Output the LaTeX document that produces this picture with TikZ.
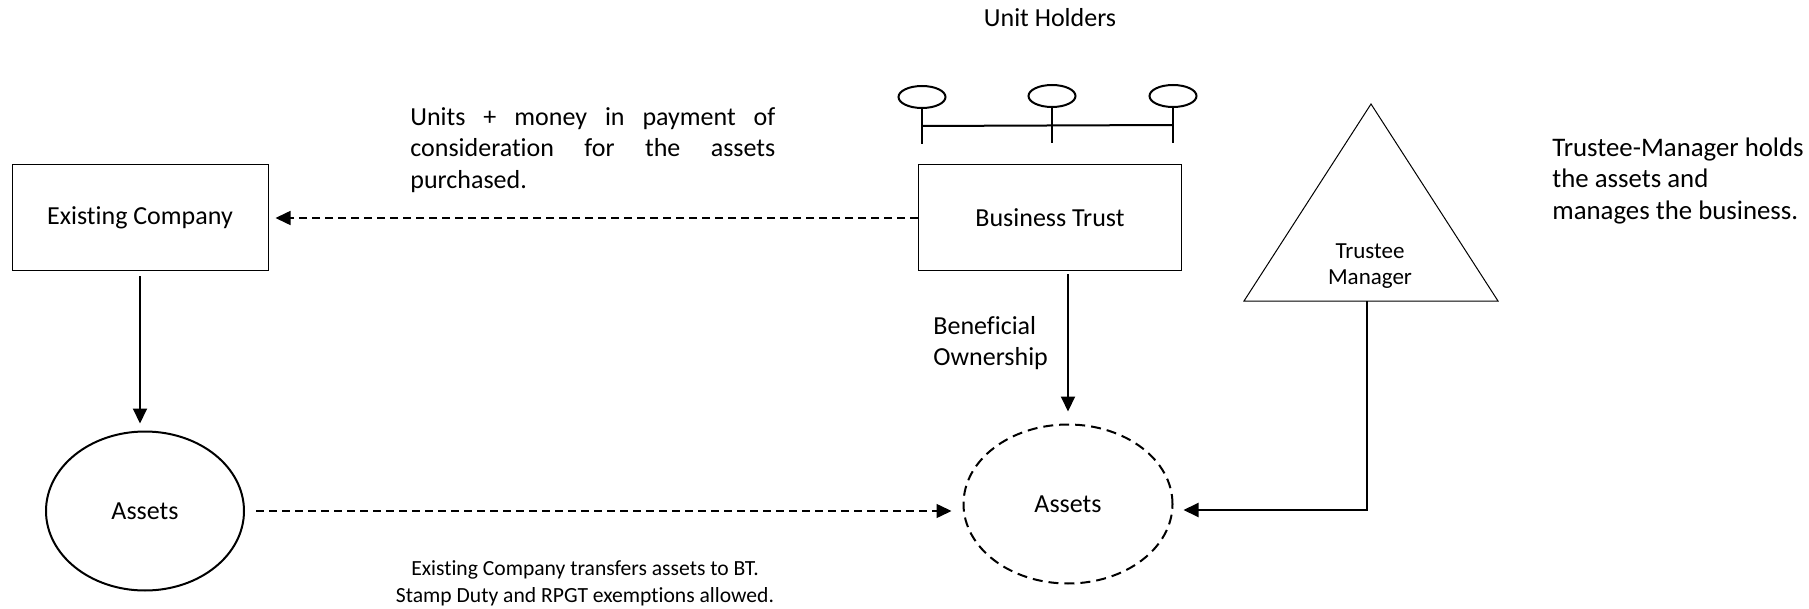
\documentclass[tikz,border=0pt]{standalone}
\usepackage{fontspec}
\setmainfont{Carlito}[Ligatures=NoCommon]
\usepackage{tikz}
\usetikzlibrary{
  arrows.meta,
  calc,
  positioning,
  shapes.geometric
}
\tikzset{>={Triangle[length=7.5pt,width=7pt]}}
\tikzset{
  box/.style={draw,line width=0.5pt,minimum height=53pt,inner sep=0pt,font=\fontsize{13}{15.8}\selectfont},
  blob/.style={ellipse,draw,line width=1pt,minimum height=79.5pt,inner sep=0pt,font=\fontsize{13}{15.8}\selectfont},
  holder/.style={ellipse,draw,line width=1pt,minimum width=23.5pt,minimum height=11pt,inner sep=0pt},
  txt/.style={inner sep=0pt,font=\fontsize{13}{15.75}\selectfont},
  dsh/.style={dash pattern=on 4pt off 2.5pt,line width=0.75pt}
}

\begin{document}
\begin{tikzpicture}[x=0.5pt,y=-0.5pt]
	\useasboundingbox (0,0) rectangle (1809,609);
	\node[txt] (uhtext) at (1050,18) {Unit Holders};
	\node[holder] (uh1) at (922,97) {};
	\node[holder] (uh2) at (1052,96) {};
	\node[holder] (uh3) at (1173,96) {};
	\foreach \i in {1,2,3}
		\draw[line width=1pt] (uh\i.south) -- ++(0,35);
	\draw[line width=1pt] ($(uh1.south)+(0,17)$) -- ($(uh3.south)+(0,17)$);
	\node[box,minimum width=128pt] (exco) at (140,218) {Existing Company};
	\node[box,minimum width=131.5pt] (btrust) at (1050,218) {Business Trust};
	\node[blob,minimum width=99pt] (oldassets) at (145,511) {Assets};
	\node[blob,dash pattern=on 5pt off 3pt,minimum width=104.5pt] (newassets) at (1068,504) {Assets};
	\coordinate (tmtop) at (1371,104);
	\coordinate (tmleft) at (1244,301);
	\coordinate (tmright) at (1498,301);
	\coordinate (tmfoot) at (1367,301);
	\draw[line width=0.5pt] (tmtop) -- (tmleft) -- (tmright) -- cycle;
	\node[txt,font=\fontsize{11.5}{13}\selectfont,align=center,anchor=north] (tm) at (1370,243) {Trustee\\Manager};
	\node[txt,text width=182.5pt,align=justify,anchor=north west] (paynote) at (410,107)
		{Units + money in payment of\linebreak consideration for the assets\linebreak purchased.};
	\node[txt,font=\fontsize{13.4}{15.75}\selectfont,align=left,anchor=north west] (tmnote) at (1552,137)
		{Trustee-Manager holds\\the assets and\\manages the business.};
	\node[txt,align=left,anchor=north west] (benefit) at (933,316) {Beneficial\\Ownership};
	\node[txt,font=\fontsize{10.8}{13.5}\selectfont,align=center,anchor=north] (transfer) at (585,560)
		{Existing Company transfers assets to BT.\\Stamp Duty and RPGT exemptions allowed.};
	\draw[->,dsh,shorten >=3.5pt] (btrust.west) -- (exco.east);
	\draw[->,line width=1pt,shorten <=2.5pt,shorten >=3.5pt] (exco.south) -- (exco.south |- oldassets.north);
	\draw[->,line width=1pt,shorten <=1.5pt,shorten >=6pt] (btrust.south -| newassets.north) -- (newassets.north);
	\draw[->,dsh,shorten <=5.5pt,shorten >=5.5pt] (oldassets.east) -- (oldassets.east -| newassets.west);
	\draw[->,line width=1pt,shorten >=5pt] (tmfoot) |- ([yshift=-3pt]newassets.east);
\end{tikzpicture}
\end{document}
